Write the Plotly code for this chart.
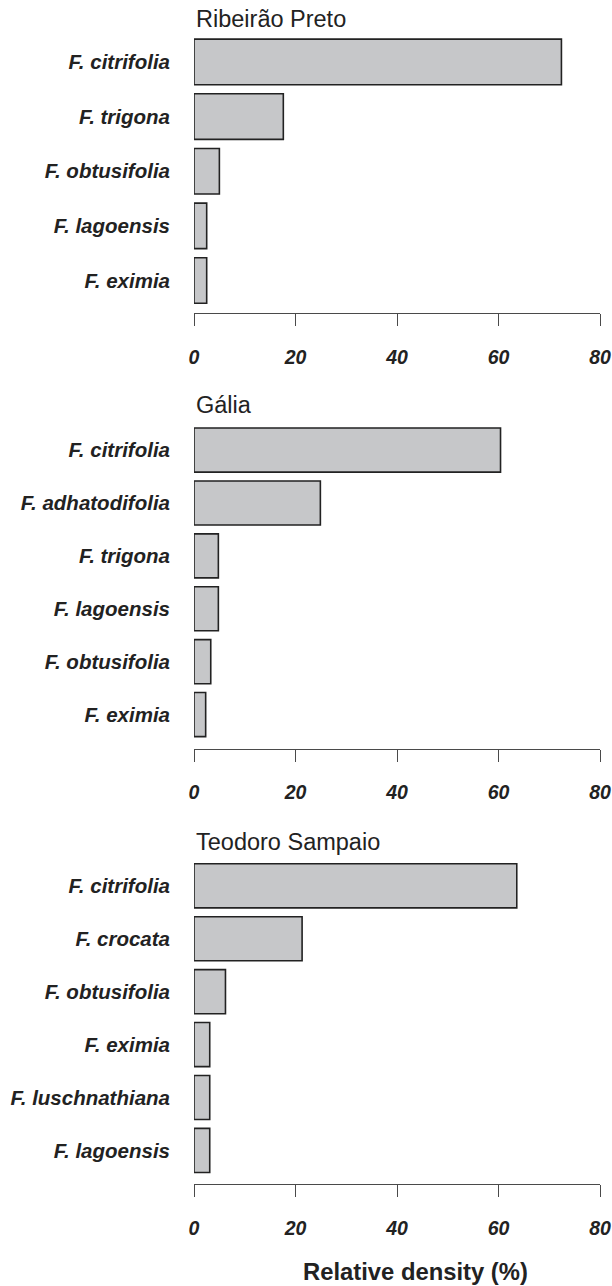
import plotly.graph_objects as go

# Relative density (%) of Ficus species at three sites
site_names = ["Ribeirão Preto", "Gália", "Teodoro Sampaio"]

ribeirao_species = ["F. citrifolia", "F. trigona", "F. obtusifolia", "F. lagoensis", "F. eximia"]
ribeirao_density = [72.4, 17.6, 5.0, 2.5, 2.5]

galia_species = ["F. citrifolia", "F. adhatodifolia", "F. trigona", "F. lagoensis",
                 "F. obtusifolia", "F. eximia"]
galia_density = [60.4, 24.9, 4.8, 4.8, 3.3, 2.3]

teodoro_species = ["F. citrifolia", "F. crocata", "F. obtusifolia", "F. eximia",
                   "F. luschnathiana", "F. lagoensis"]
teodoro_density = [63.6, 21.3, 6.2, 3.1, 3.1, 3.1]

x_ticks = [0, 20, 40, 60, 80]
x_title = "Relative density (%)"

W, H = 612, 1286
FONT = "Liberation Sans, Arial, sans-serif"
BAR_FILL = "#c6c7c9"
BAR_EDGE = "#222222"
AXIS_COL = "#4a4a4a"

# panel layout in pixels: (top of plot area, axis line y, lower range bound)
panels = [
    (ribeirao_species, ribeirao_density, 34.6, 313.3, 4.60),
    (galia_species, galia_density, 423.6, 749.0, 5.65),
    (teodoro_species, teodoro_density, 859.4, 1184.3, 5.64),
]
title_y = [19, 405, 842]

x_left, x_right = 194, 600


def py(px):
    return 1 - px / H


fig = go.Figure()
layout = dict(
    width=W, height=H,
    margin=dict(l=0, r=0, t=0, b=0),
    paper_bgcolor="white", plot_bgcolor="white",
    showlegend=False,
    font=dict(family=FONT, color="#222222"),
)

annotations = []
for i, (species, dens, top, bottom, lo) in enumerate(panels):
    n = i + 1
    xa = "x" if n == 1 else f"x{n}"
    ya = "y" if n == 1 else f"y{n}"
    fig.add_trace(go.Bar(
        x=dens, y=species, orientation="h",
        xaxis=xa, yaxis=ya,
        width=0.833,
        marker=dict(color=BAR_FILL, line=dict(color=BAR_EDGE, width=1.6)),
        hoverinfo="x+y",
    ))
    xkey = "xaxis" if n == 1 else f"xaxis{n}"
    ykey = "yaxis" if n == 1 else f"yaxis{n}"
    layout[xkey] = dict(
        domain=[x_left / W, x_right / W],
        range=[0, 80],
        tickvals=x_ticks,
        ticktext=[str(t) for t in x_ticks],
        showline=True, linecolor=AXIS_COL, linewidth=1,
        ticks="outside", ticklen=12, tickwidth=1, tickcolor=AXIS_COL,
        ticklabelstandoff=14,
        showgrid=False, zeroline=False,
        automargin=False,
        anchor=ya,
        tickfont=dict(family=FONT, size=19.5, weight="bold", style="italic", color="#222222"),
        fixedrange=True,
    )
    layout[ykey] = dict(
        domain=[py(bottom), py(top)],
        type="category",
        categoryorder="array", categoryarray=species,
        range=[lo, -0.5],
        showline=False, showgrid=False, zeroline=False,
        ticks="", ticklabelstandoff=23,
        automargin=False,
        anchor=xa,
        tickfont=dict(family=FONT, size=20.5, weight="bold", style="italic", color="#222222"),
        fixedrange=True,
    )
    annotations.append(dict(
        text=site_names[i], xref="paper", yref="paper",
        x=x_left / W, y=py(title_y[i]), xanchor="left", yanchor="middle",
        showarrow=False, font=dict(family=FONT, size=23.5, color="#222222"),
    ))

annotations.append(dict(
    text=x_title, xref="paper", yref="paper",
    x=415 / W, y=py(1271), xanchor="center", yanchor="middle",
    showarrow=False, font=dict(family=FONT, size=23.8, weight="bold", color="#222222"),
))

layout["annotations"] = annotations
fig.update_layout(**layout)
fig.write_html("out.html")
